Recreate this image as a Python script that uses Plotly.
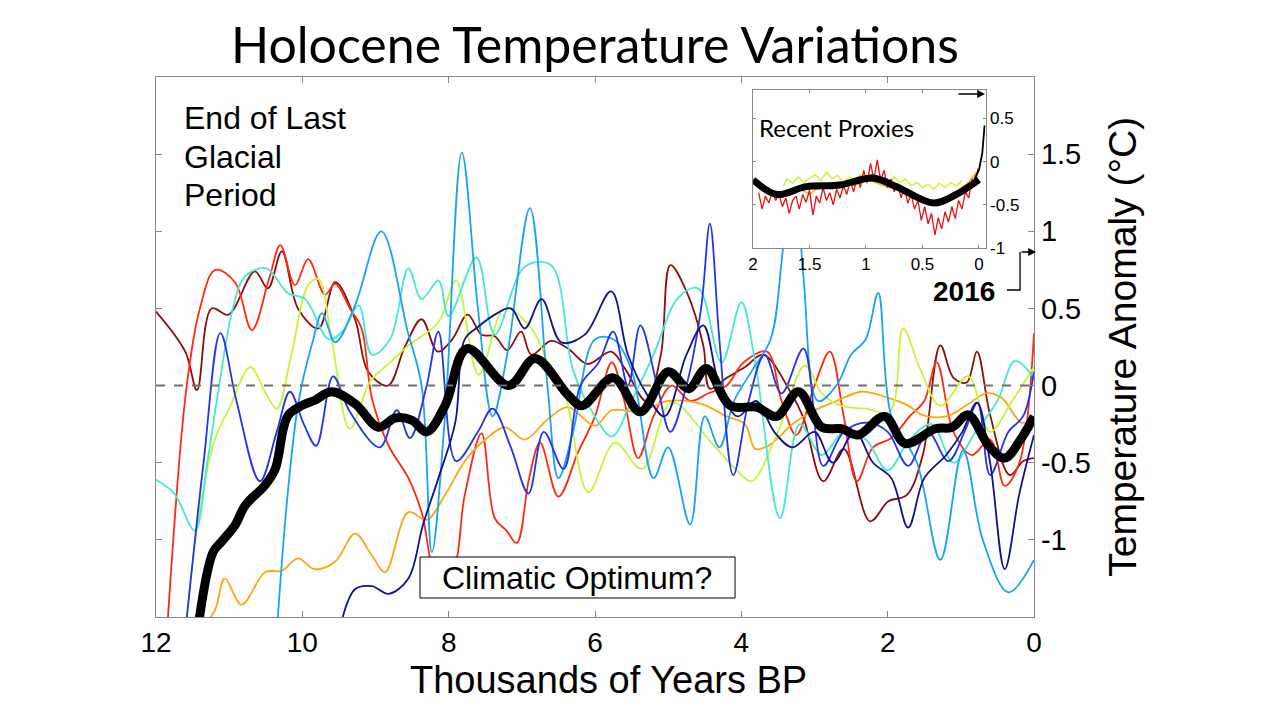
import plotly.graph_objects as go

# ---------------- data (thousands of years BP, temperature anomaly °C) ----------------
dark_red_x = [12.0, 11.6, 11.44, 11.24, 11.01, 10.65, 10.47, 10.28, 10.06, 9.78, 9.55, 9.28, 9.1, 8.83, 8.6, 8.37, 8.15, 7.95, 7.74, 7.55, 7.37, 7.2, 7.01, 6.87, 6.6, 6.37, 6.1, 5.78, 5.59, 5.3, 5.1, 4.97, 4.75, 4.52, 4.43, 4.2, 3.95, 3.7, 3.33, 3.15, 2.88, 2.6, 2.24, 1.99, 1.74, 1.52, 1.28, 1.1, 0.92, 0.78, 0.6, 0.33, 0.15, 0.0]
dark_red_y = [0.48, 0.22, -0.03, 0.5, 0.46, 0.74, 0.63, 0.87, 0.5, 0.37, 0.67, 0.43, 0.09, 0.0, 0.25, 0.43, 0.22, 0.3, 0.46, 0.33, 0.32, 0.23, 0.35, 0.2, 0.29, 0.24, 0.14, 0.22, 0.11, -0.1, 0.2, 0.78, 0.61, 0.26, -0.02, 0.05, 0.12, 0.2, -0.04, -0.21, -0.62, -0.41, -0.88, -0.75, -0.71, -0.45, 0.26, 0.05, 0.02, 0.22, -0.19, -0.58, -0.49, -0.47]

red_x = [11.85, 11.59, 11.4, 11.19, 10.92, 10.69, 10.45, 10.3, 10.1, 9.92, 9.69, 9.55, 9.35, 9.19, 9.05, 8.82, 8.55, 8.37, 8.15, 7.95, 7.78, 7.55, 7.37, 7.21, 7.07, 6.9, 6.75, 6.5, 6.23, 6.0, 5.77, 5.6, 5.41, 5.2, 4.95, 4.7, 4.45, 4.2, 3.97, 3.65, 3.45, 3.25, 3.0, 2.79, 2.6, 2.42, 2.2, 1.95, 1.7, 1.5, 1.33, 1.1, 0.85, 0.6, 0.4, 0.2, 0.0]
red_y = [-1.6, -0.04, 0.5, 0.75, 0.67, 0.36, 0.7, 0.91, 0.65, 0.82, 0.59, 0.66, 0.5, 0.37, -0.08, -0.39, -0.6, -0.82, -1.25, -1.2, -0.71, -0.31, -0.86, -0.94, -1.02, -0.6, -0.37, -0.72, -0.43, -0.2, 0.15, -0.1, -0.47, -0.2, 0.0, -0.1, -0.05, 0.0, 0.15, 0.22, -0.1, -0.32, 0.0, 0.22, -0.2, -0.62, -0.4, -0.34, -0.2, -0.1, 0.15, -0.3, -0.45, -0.35, -0.65, -0.5, 0.34]

orange_x = [11.4, 11.19, 11.06, 10.83, 10.51, 10.28, 10.06, 9.83, 9.55, 9.28, 9.05, 8.87, 8.55, 8.3, 8.05, 7.78, 7.5, 7.23, 6.96, 6.65, 6.37, 6.0, 5.77, 5.4, 5.0, 4.54, 4.2, 3.95, 3.81, 3.63, 3.3, 3.04, 2.7, 2.36, 1.99, 1.72, 1.53, 1.2, 0.9, 0.65, 0.44, 0.17, 0.0]
orange_y = [-1.6, -1.45, -1.25, -1.42, -1.21, -1.2, -1.12, -1.19, -1.14, -0.96, -1.1, -1.21, -0.82, -0.87, -0.71, -0.49, -0.35, -0.27, -0.35, -0.22, -0.14, -0.26, -0.16, -0.17, -0.1, -0.12, -0.2, -0.25, -0.41, -0.39, -0.25, -0.17, -0.1, -0.04, -0.08, -0.13, -0.19, -0.2, -0.12, -0.05, -0.08, -0.24, -0.21]

yellow_x = [11.6, 11.4, 11.19, 11.0, 10.71, 10.5, 10.35, 10.15, 9.92, 9.78, 9.6, 9.35, 9.07, 8.8, 8.55, 8.14, 7.9, 7.59, 7.23, 6.87, 6.6, 6.41, 6.09, 5.73, 5.36, 4.95, 4.41, 4.04, 3.86, 3.5, 3.13, 2.9, 2.65, 2.3, 1.97, 1.79, 1.55, 1.28, 0.9, 0.6, 0.3, 0.0]
yellow_y = [-1.6, -0.8, -0.34, -0.15, 0.12, -0.05, -0.15, 0.2, 0.65, 0.69, 0.3, -0.28, 0.03, 0.15, 0.26, 0.41, 0.68, 0.07, 0.5, 0.37, 0.1, -0.06, -0.69, -0.37, -0.54, -0.11, -0.37, -0.56, -0.62, -0.3, 0.13, -0.05, -0.13, -0.15, -0.17, 0.37, 0.1, -0.13, 0.06, -0.3, -0.1, 0.12]

turq_x = [12.0, 11.75, 11.47, 11.3, 11.15, 10.95, 10.78, 10.49, 10.2, 9.96, 9.64, 9.45, 9.23, 9.05, 8.8, 8.55, 8.37, 8.14, 8.0, 7.62, 7.37, 6.96, 6.6, 6.3, 6.0, 5.77, 5.5, 5.2, 4.86, 4.59, 4.27, 4.0, 3.81, 3.47, 3.2, 2.9, 2.6, 2.3, 2.0, 1.7, 1.4, 1.1, 0.8, 0.5, 0.26, 0.0]
turq_y = [-0.61, -0.7, -0.94, -0.5, -0.04, 0.5, 0.71, 0.76, 0.6, 0.56, 0.3, 0.35, 0.52, 0.2, 0.3, 0.76, 0.56, 0.68, 0.45, 0.83, 0.33, 0.77, 0.78, 0.1, -0.2, -0.33, -0.1, 0.2, 0.57, 0.63, 0.15, 0.54, 0.15, -0.86, -0.25, -0.45, -0.3, -0.35, -0.55, -0.35, -0.25, -0.5, -0.3, -0.1, 0.16, 0.05]

sky_x = [10.35, 10.2, 10.05, 9.85, 9.73, 9.55, 9.28, 8.92, 8.56, 8.37, 8.23, 8.05, 7.82, 7.6, 7.4, 7.2, 6.89, 6.65, 6.5, 6.3, 6.0, 5.75, 5.5, 5.2, 5.0, 4.7, 4.5, 4.3, 4.1, 3.85, 3.6, 3.45, 3.3, 3.15, 2.95, 2.7, 2.5, 2.3, 2.13, 1.95, 1.6, 1.28, 0.97, 0.7, 0.35, 0.0]
sky_y = [-1.6, -0.7, -0.1, 0.3, 0.47, 0.28, 0.52, 1.0, 0.35, 0.0, -1.08, -0.2, 1.51, 0.5, -0.2, 0.2, 1.15, 0.0, -0.6, -0.3, 0.3, 0.3, 0.1, -0.6, -0.4, -0.9, -0.2, -0.4, -0.1, 0.1, 0.3, 0.8, 1.6, 0.7, -0.1, 0.0, 0.2, 0.3, 0.6, -0.2, -0.5, -1.13, -0.42, -1.0, -1.34, -1.13]

blue_x = [11.6, 11.35, 11.12, 10.9, 10.58, 10.35, 10.17, 9.98, 9.81, 9.58, 9.35, 8.94, 8.71, 8.53, 8.3, 8.14, 7.9, 7.6, 7.4, 7.15, 6.91, 6.7, 6.43, 6.2, 5.95, 5.75, 5.55, 5.38, 5.15, 4.97, 4.75, 4.55, 4.43, 4.3, 4.11, 3.9, 3.68, 3.45, 3.15, 2.88, 2.6, 2.27, 2.0, 1.72, 1.45, 1.17, 0.95, 0.77, 0.6, 0.35, 0.15, 0.0]
blue_y = [-1.6, -0.5, 0.34, -0.1, -0.62, -0.3, -0.04, -0.25, -0.39, 0.06, -0.17, -0.4, -0.16, -0.34, 0.0, 0.35, -0.49, -0.3, -0.15, -0.4, -0.7, -0.3, -0.54, 0.0, 0.15, 0.35, 0.0, 0.39, 0.0, -0.3, 0.0, 0.5, 1.05, 0.3, -0.58, -0.1, 0.2, -0.05, 0.24, -0.52, -0.3, -0.24, -0.3, -0.52, -0.3, -0.49, -0.3, -0.11, -0.58, -0.3, -0.2, 0.09]

navy_x = [9.5, 9.28, 9.05, 8.82, 8.55, 8.35, 8.14, 7.91, 7.78, 7.6, 7.37, 7.15, 6.96, 6.73, 6.46, 6.14, 5.78, 5.55, 5.3, 5.05, 4.75, 4.52, 4.3, 4.05, 3.8, 3.55, 3.3, 3.0, 2.75, 2.45, 2.2, 1.95, 1.72, 1.5, 1.2, 0.98, 0.78, 0.6, 0.4, 0.2, 0.0]
navy_y = [-1.6, -1.32, -1.3, -1.35, -1.25, -0.9, -0.6, -0.24, 0.3, 0.38, 0.46, 0.5, 0.37, 0.56, 0.28, 0.33, 0.61, 0.2, -0.05, -0.2, 0.2, 0.39, 0.0, -0.2, -0.1, -0.3, -0.4, -0.3, -0.5, -0.3, -0.5, -0.6, -0.92, -0.6, -0.45, -0.3, -0.11, -0.5, -1.19, -0.7, -0.32]

mean_x = [11.42, 11.22, 11.1, 10.92, 10.78, 10.51, 10.37, 10.26, 10.19, 10.01, 9.83, 9.6, 9.28, 8.96, 8.73, 8.5, 8.3, 8.05, 7.75, 7.18, 6.82, 6.37, 6.18, 5.75, 5.38, 5.0, 4.72, 4.48, 4.15, 3.79, 3.52, 3.22, 2.9, 2.63, 2.4, 2.04, 1.76, 1.35, 1.12, 0.9, 0.62, 0.4, 0.17, 0.0]
mean_y = [-1.55, -1.08, -1.01, -0.905, -0.776, -0.646, -0.54, -0.28, -0.19, -0.13, -0.095, -0.04, -0.117, -0.27, -0.21, -0.225, -0.3, -0.13, 0.24, 0.0, 0.175, -0.06, -0.13, 0.05, -0.17, 0.09, -0.02, 0.11, -0.13, -0.14, -0.2, -0.04, -0.27, -0.28, -0.32, -0.2, -0.376, -0.28, -0.27, -0.19, -0.39, -0.47, -0.34, -0.2]

# inset: recent proxies (thousands of years BP)
in_red_x = [1.95, 1.92, 1.89, 1.86, 1.83, 1.80, 1.77, 1.74, 1.71, 1.68, 1.65, 1.62, 1.59, 1.56, 1.53, 1.50, 1.47, 1.44, 1.41, 1.38, 1.35, 1.32, 1.29, 1.26, 1.23, 1.20, 1.17, 1.14, 1.11, 1.08, 1.05, 1.02, 0.99, 0.96, 0.93, 0.90, 0.87, 0.84, 0.81, 0.78, 0.75, 0.72, 0.69, 0.66, 0.63, 0.60, 0.57, 0.54, 0.51, 0.48, 0.45, 0.42, 0.39, 0.36, 0.33, 0.30, 0.27, 0.24, 0.21, 0.18, 0.15, 0.12, 0.09, 0.06, 0.03, 0.01]
in_red_y = [-0.36, -0.55, -0.40, -0.48, -0.35, -0.45, -0.38, -0.52, -0.42, -0.60, -0.45, -0.40, -0.55, -0.38, -0.47, -0.33, -0.62, -0.40, -0.48, -0.30, -0.45, -0.36, -0.50, -0.32, -0.42, -0.28, -0.38, -0.22, -0.35, -0.18, -0.30, -0.10, -0.25, -0.02, -0.20, 0.02, -0.22, -0.10, -0.30, -0.20, -0.35, -0.25, -0.42, -0.30, -0.48, -0.38, -0.55, -0.45, -0.68, -0.52, -0.72, -0.60, -0.85, -0.65, -0.78, -0.58, -0.70, -0.52, -0.66, -0.45, -0.55, -0.35, -0.42, -0.20, -0.28, -0.08]
in_yel_x = [1.73, 1.70, 1.65, 1.60, 1.55, 1.50, 1.45, 1.40, 1.35, 1.30, 1.25, 1.20, 1.15, 1.10, 1.05, 1.00, 0.95, 0.90, 0.85, 0.80, 0.75, 0.70, 0.65, 0.60, 0.55, 0.50, 0.45, 0.40, 0.35, 0.30, 0.25, 0.20, 0.15]
in_yel_y = [-0.28, -0.20, -0.25, -0.18, -0.24, -0.20, -0.15, -0.22, -0.12, -0.20, -0.16, -0.24, -0.18, -0.22, -0.15, -0.20, -0.14, -0.22, -0.20, -0.26, -0.18, -0.24, -0.20, -0.28, -0.24, -0.30, -0.26, -0.32, -0.25, -0.30, -0.24, -0.28, -0.22]
in_org_x = [1.70, 1.60, 1.50, 1.40, 1.30, 1.20, 1.10, 1.00, 0.90, 0.80, 0.70, 0.60, 0.50, 0.40, 0.30, 0.20, 0.10, 0.02]
in_org_y = [-0.35, -0.30, -0.38, -0.28, -0.32, -0.25, -0.28, -0.20, -0.25, -0.30, -0.32, -0.40, -0.45, -0.50, -0.45, -0.35, -0.25, -0.12]
in_mean_x = [2.0, 1.79, 1.53, 1.23, 0.94, 0.73, 0.4, 0.2, 0.0]
in_mean_y = [-0.21, -0.38, -0.29, -0.27, -0.19, -0.29, -0.48, -0.38, -0.21]
in_instr_x = [0.04, 0.0, -0.03, -0.05]
in_instr_y = [-0.2, -0.1, 0.1, 0.42]

main_ticks = [0, 2, 4, 6, 8, 10, 12]
main_tick_text = ["0", "2", "4", "6", "8", "10", "12"]
y_ticks = [-1, -0.5, 0, 0.5, 1, 1.5]
y_tick_text = ["-1", "-0.5", "0", "0.5", "1", "1.5"]
in_x_ticks = [2, 1.5, 1, 0.5, 0]
in_x_text = ["2", "1.5", "1", "0.5", "0"]
in_y_ticks = [-1, -0.5, 0, 0.5]
in_y_text = ["-1", "-0.5", "0", "0.5"]

series = [
    (dark_red_x, dark_red_y, "#8B0F0F"),
    (red_x, red_y, "#FF2A10"),
    (orange_x, orange_y, "#FFA510"),
    (yellow_x, yellow_y, "#C5F53A"),
    (turq_x, turq_y, "#45E8D2"),
    (sky_x, sky_y, "#18A4F2"),
    (blue_x, blue_y, "#2236E6"),
    (navy_x, navy_y, "#12128E"),
]

FONT = "Liberation Sans, Arial, sans-serif"
fig = go.Figure()

for xs, ys, c in series:
    fig.add_trace(go.Scatter(x=xs, y=ys, mode="lines", line=dict(color=c, width=1.8, shape="spline", smoothing=1.0),
                             xaxis="x", yaxis="y", showlegend=False, hoverinfo="skip"))
fig.add_trace(go.Scatter(x=mean_x, y=mean_y, mode="lines", line=dict(color="black", width=9, shape="spline", smoothing=1.0),
                         xaxis="x", yaxis="y", showlegend=False, hoverinfo="skip"))

# inset traces
fig.add_trace(go.Scatter(x=in_yel_x, y=in_yel_y, mode="lines", line=dict(color="#C5F53A", width=1.5),
                         xaxis="x2", yaxis="y2", showlegend=False, hoverinfo="skip"))
fig.add_trace(go.Scatter(x=in_org_x, y=in_org_y, mode="lines", line=dict(color="#FFB010", width=1.5),
                         xaxis="x2", yaxis="y2", showlegend=False, hoverinfo="skip"))
fig.add_trace(go.Scatter(x=in_red_x, y=in_red_y, mode="lines", line=dict(color="#E81010", width=1.3),
                         xaxis="x2", yaxis="y2", showlegend=False, hoverinfo="skip"))
fig.add_trace(go.Scatter(x=in_mean_x, y=in_mean_y, mode="lines", line=dict(color="black", width=7, shape="spline"),
                         xaxis="x2", yaxis="y2", showlegend=False, hoverinfo="skip"))
fig.add_trace(go.Scatter(x=in_instr_x, y=in_instr_y, mode="lines", line=dict(color="black", width=1.8),
                         xaxis="x2", yaxis="y2", showlegend=False, hoverinfo="skip"))

axcol = "#888888"
fig.update_layout(
    width=1280, height=720,
    margin=dict(l=148, r=254, t=69, b=111),
    paper_bgcolor="white", plot_bgcolor="white",
    font=dict(family=FONT, color="black"),
    showlegend=False,
    xaxis=dict(domain=[0, 1], range=[12, 0], tickvals=main_ticks, ticktext=main_tick_text,
               ticks="inside", ticklen=6, tickcolor=axcol, showline=True, linecolor=axcol, linewidth=1.2,
               mirror="ticks", showgrid=False, zeroline=False, tickfont=dict(size=28, family=FONT)),
    yaxis=dict(domain=[0, 1], range=[-1.5, 2.0], side="right", tickvals=y_ticks, ticktext=y_tick_text,
               ticks="inside", ticklen=6, tickcolor=axcol, showline=True, linecolor=axcol, linewidth=1.2,
               mirror="ticks", showgrid=False, zeroline=False, tickfont=dict(size=29, family=FONT)),
    xaxis2=dict(domain=[0.680, 0.945], anchor="y2", range=[2, -0.06], tickvals=in_x_ticks, ticktext=in_x_text,
                ticks="inside", ticklen=3, tickcolor=axcol, showline=True, linecolor=axcol, linewidth=1,
                mirror="ticks", showgrid=False, zeroline=False, tickfont=dict(size=17, family=FONT)),
    yaxis2=dict(domain=[0.6826, 0.976], anchor="x2", side="right", range=[-1.005, 0.83], tickvals=in_y_ticks,
                ticktext=in_y_text, ticks="inside", ticklen=3, tickcolor=axcol, showline=True, linecolor=axcol,
                linewidth=1, mirror="ticks", showgrid=False, zeroline=False, tickfont=dict(size=17, family=FONT)),
)

# zero line
fig.add_shape(type="line", xref="x domain", yref="y", x0=0, x1=1, y0=0, y1=0,
              line=dict(color="#707070", width=2, dash="dash"))

# Climatic optimum box
fig.add_shape(type="rect", xref="paper", yref="paper", x0=0.3007, x1=0.6595, y0=0.0352, y1=0.1111,
              fillcolor="white", line=dict(color="black", width=1), layer="above")

# 2016 connector
fig.add_shape(type="path", xref="paper", yref="paper",
              path="M 0.9692 0.6056 L 0.9841 0.6056 L 0.9841 0.6759", line=dict(color="black", width=1.3))

ann = [
    dict(text="Holocene Temperature Variations", x=0.5, y=1.062, font=dict(size=50, family="Lato, Open Sans, sans-serif")),
    dict(text="Thousands of Years BP", x=0.515, y=-0.116, font=dict(size=38, family=FONT)),
    dict(text="Temperature Anomaly (°C)", x=1.100, y=0.5, textangle=-90, font=dict(size=39, family=FONT)),
    dict(text="End of Last", x=0.0296, y=0.924, xanchor="left", font=dict(size=32, family=FONT)),
    dict(text="Glacial", x=0.0296, y=0.852, xanchor="left", font=dict(size=32, family=FONT)),
    dict(text="Period", x=0.0296, y=0.781, xanchor="left", font=dict(size=32, family=FONT)),
    dict(text="Climatic Optimum?", x=0.480, y=0.0731, font=dict(size=32, family=FONT)),
    dict(text="Recent Proxies", x=0.6845, y=0.9056, xanchor="left", font=dict(size=24, family="Lato, Open Sans, sans-serif")),
    dict(text="<b>2016</b>", x=0.920, y=0.602, font=dict(size=28, family=FONT)),
]
for a in ann:
    base = dict(xref="paper", yref="paper", showarrow=False, xanchor="center", yanchor="middle")
    base.update(a)
    fig.add_annotation(**base)

# arrows (tail offsets in pixels)
fig.add_annotation(xref="paper", yref="paper", x=1.0023, y=0.6759, ax=-16, ay=0,
                   text="", showarrow=True, arrowhead=2, arrowsize=1.2, arrowwidth=1.3, arrowcolor="black")
fig.add_annotation(xref="paper", yref="paper", x=0.9442, y=0.9685, ax=-28, ay=0,
                   text="", showarrow=True, arrowhead=2, arrowsize=1.2, arrowwidth=1.3, arrowcolor="black")

fig.write_html("out.html")
